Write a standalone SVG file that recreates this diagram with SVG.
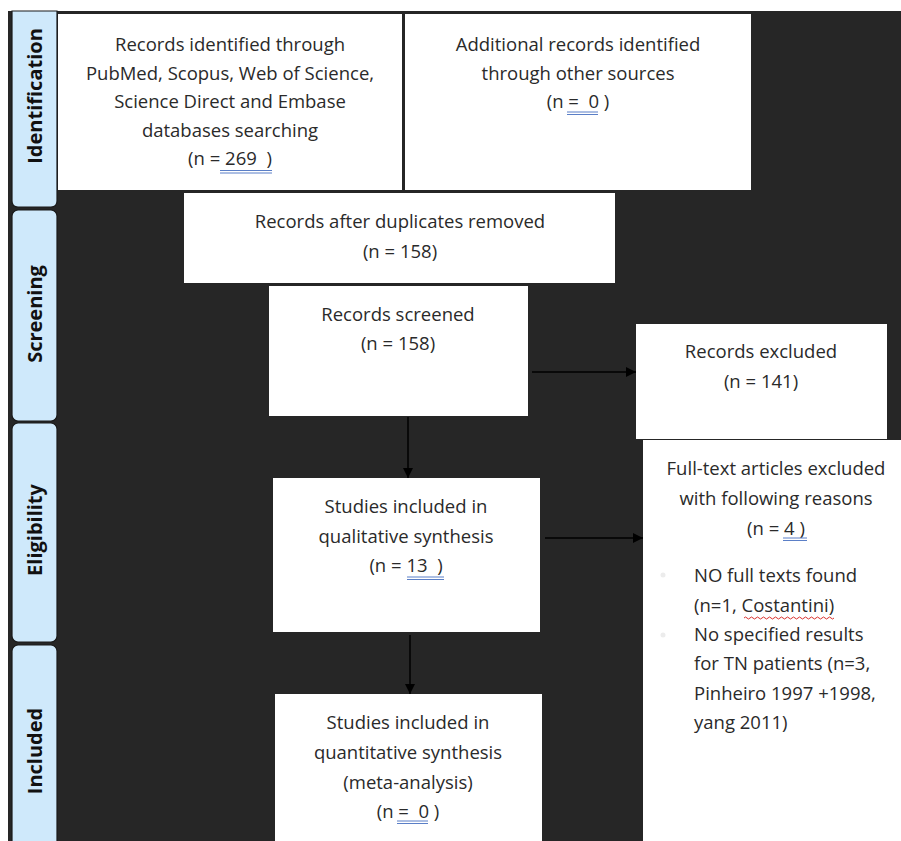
<svg xmlns="http://www.w3.org/2000/svg" width="901" height="841" viewBox="0 0 901 841">
<defs>
<style>
.bg{fill:#262626}
.box{fill:#ffffff}
.tab{fill:#cfe9fb;stroke:#1a1a1a;stroke-width:1.2}
.t{font-family:"Open Sans","Liberation Sans",sans-serif;font-size:18.5px;fill:#2a2a2a;text-anchor:middle;white-space:pre}
.tl{font-family:"Open Sans","Liberation Sans",sans-serif;font-size:18.5px;fill:#2a2a2a}
.lab{font-family:"Open Sans","Liberation Sans",sans-serif;font-size:20px;font-weight:bold;fill:#111;text-anchor:middle}
.con{stroke:#000;stroke-width:1.5;fill:none;marker-end:url(#ah)}
.ul{stroke:#5b7fc7;stroke-width:1;fill:none}
</style>
<marker id="ah" markerUnits="userSpaceOnUse" markerWidth="10" markerHeight="10" refX="10" refY="5" orient="auto">
<path d="M0,0 L10,5 L0,10 z" fill="#000"/>
</marker>
</defs>
<rect x="0" y="0" width="901" height="841" fill="#ffffff"/>
<rect class="bg" x="8" y="11" width="893" height="830"/>

<g id="tab-identification">
<path class="tab" d="M12,11 H57 V201 Q57,207 51,207 H18 Q12,207 12,201 Z"/>
<text class="lab" transform="translate(42,96) rotate(-90)">Identification</text>
</g>
<g id="tab-screening">
<rect class="tab" x="12" y="210" width="45" height="211" rx="6"/>
<text class="lab" transform="translate(42,314) rotate(-90)">Screening</text>
</g>
<g id="tab-eligibility">
<rect class="tab" x="12" y="423" width="45" height="219" rx="6"/>
<text class="lab" transform="translate(42,530) rotate(-90)">Eligibility</text>
</g>
<g id="tab-included">
<rect class="tab" x="12" y="645" width="45" height="210" rx="6"/>
<text class="lab" transform="translate(42,751) rotate(-90)">Included</text>
</g>

<g id="records-identified">
<rect class="box" x="58" y="14" width="344" height="176"/>
<text class="t" x="230" y="51">Records identified through</text>
<text class="t" x="230" y="79.5">PubMed, Scopus, Web of Science,</text>
<text class="t" x="230" y="108">Science Direct and Embase</text>
<text class="t" x="230" y="136.5">databases searching</text>
<text class="t" x="230" y="165" xml:space="preserve">(n = 269  )</text>
<path class="ul" d="M220,170.5 H272 M220,173 H272"/>
</g>

<g id="additional-records">
<rect class="box" x="405" y="14" width="346" height="176"/>
<text class="t" x="578" y="51">Additional records identified</text>
<text class="t" x="578" y="79.5">through other sources</text>
<text class="t" x="578" y="108" xml:space="preserve">(n =  0 )</text>
<path class="ul" d="M567,112 H598 M567,114.5 H598"/>
</g>

<g id="after-duplicates">
<rect class="box" x="184" y="193" width="431" height="90"/>
<text class="t" x="400" y="228">Records after duplicates removed</text>
<text class="t" x="400" y="258">(n = 158)</text>
</g>

<g id="records-screened">
<rect class="box" x="269" y="286" width="259" height="130"/>
<text class="t" x="398" y="321">Records screened</text>
<text class="t" x="398" y="350">(n = 158)</text>
</g>

<g id="records-excluded">
<rect class="box" x="636" y="324" width="251" height="115"/>
<text class="t" x="761" y="358">Records excluded</text>
<text class="t" x="761" y="388">(n = 141)</text>
</g>

<g id="fulltext-excluded">
<rect class="box" x="643" y="440" width="258" height="401"/>
<text class="t" x="776" y="475">Full-text articles excluded</text>
<text class="t" x="776" y="505">with following reasons</text>
<text class="t" x="776" y="535">(n = 4 )</text>
<path class="ul" d="M783,538 H807 M783,540.5 H807"/>
<circle cx="663" cy="575" r="2.5" fill="#ececec"/>
<circle cx="663" cy="635" r="2.5" fill="#ececec"/>
<text class="tl" x="694" y="582">NO full texts found</text>
<text class="tl" x="694" y="611.5">(n=1, Costantini)</text>
<path d="M744,618 q1.5,-2 3,0 t3,0 t3,0 t3,0 t3,0 t3,0 t3,0 t3,0 t3,0 t3,0 t3,0 t3,0 t3,0 t3,0 t3,0 t3,0 t3,0 t3,0 t3,0 t3,0 t3,0 t3,0 t3,0 t3,0 t3,0 t3,0 t3,0 t3,0 t3,0 t3,0" stroke="#d9322e" stroke-width="1" fill="none"/>
<text class="tl" x="694" y="641">No specified results</text>
<text class="tl" x="694" y="670">for TN patients (n=3,</text>
<text class="tl" x="694" y="699.5">Pinheiro 1997 +1998,</text>
<text class="tl" x="694" y="729">yang 2011)</text>
</g>

<g id="qualitative">
<rect class="box" x="273" y="478" width="267" height="154"/>
<text class="t" x="406" y="513">Studies included in</text>
<text class="t" x="406" y="543">qualitative synthesis</text>
<text class="t" x="406" y="572" xml:space="preserve">(n = 13  )</text>
<path class="ul" d="M407,577 H444 M407,579.5 H444"/>
</g>

<g id="quantitative">
<rect class="box" x="275" y="694" width="267" height="147"/>
<text class="t" x="408" y="729">Studies included in</text>
<text class="t" x="408" y="759">quantitative synthesis</text>
<text class="t" x="408" y="789">(meta-analysis)</text>
<text class="t" x="408" y="818" xml:space="preserve">(n =  0 )</text>
<path class="ul" d="M397,821 H428 M397,823.5 H428"/>
</g>

<g id="connectors">
<path class="con" d="M532,372 L636,372"/>
<path class="con" d="M408,417 L408,478"/>
<path class="con" d="M545,538 L643,538"/>
<path class="con" d="M410,635 L410,694"/>
</g>
</svg>
